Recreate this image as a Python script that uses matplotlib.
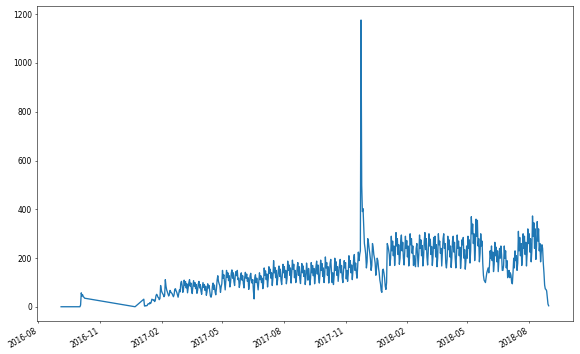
import pandas as pd
import matplotlib
matplotlib.use("Agg")
import matplotlib.pyplot as plt
import matplotlib.dates as mdates

# first scattered orders in 2016
early_dates = ["2016-09-04", "2016-09-05", "2016-09-13", "2016-09-15",
               "2016-10-02", "2016-10-03", "2016-10-04", "2016-10-05",
               "2016-10-06", "2016-10-07", "2016-10-08", "2016-10-09",
               "2016-12-23"]
early_counts = [1, 1, 1, 1, 1, 8, 58, 45, 50, 42, 40, 36, 1]

# daily orders 2017-01-05 .. 2017-12-31 (rows are Mon..Sun weeks)
start_2017 = "2017-01-05"
counts_2017 = [
    32, 4, 4, 6,
    5, 6, 12, 13, 12, 18, 14,
    20, 32, 30, 28, 30, 22, 26,
    45, 52, 48, 40, 38, 30, 35,
    88, 70, 60, 55, 50, 42, 48,
    112, 85, 70, 62, 55, 45, 52,
    68, 62, 58, 55, 48, 42, 50,
    72, 75, 66, 60, 50, 40, 55,
    70, 62, 98, 105, 88, 60, 72,
    110, 88, 104, 78, 95, 58, 80,
    100, 112, 85, 98, 70, 55, 85,
    108, 85, 100, 75, 92, 56, 68,
    95, 105, 78, 92, 65, 52, 80,
    100, 80, 92, 68, 85, 48, 62,
    95, 78, 88, 65, 45, 40, 52,
    85, 98, 72, 90, 62, 50, 75,
    110, 128, 105, 95, 88, 60, 82,
    95, 150, 118, 132, 100, 70, 110,
    150, 122, 140, 108, 128, 82, 100,
    138, 152, 118, 140, 104, 88, 130,
    145, 128, 150, 112, 118, 80, 96,
    132, 140, 110, 128, 96, 78, 120,
    142, 118, 135, 105, 120, 72, 95,
    128, 138, 108, 98, 112, 65, 33,
    120, 132, 100, 118, 92, 70, 108,
    140, 112, 128, 100, 118, 75, 95,
    160, 130, 148, 112, 135, 82, 115,
    165, 138, 155, 118, 140, 88, 120,
    190, 140, 162, 120, 150, 90, 112,
    150, 168, 125, 155, 110, 92, 135,
    175, 140, 165, 120, 150, 95, 118,
    188, 150, 172, 130, 160, 98, 140,
    192, 155, 175, 120, 150, 100, 122,
    160, 182, 130, 165, 115, 96, 145,
    178, 140, 168, 125, 150, 92, 118,
    180, 150, 110, 158, 130, 90, 118,
    182, 140, 170, 128, 158, 95, 125,
    165, 188, 135, 172, 118, 98, 140,
    192, 150, 178, 125, 160, 100, 130,
    205, 160, 182, 130, 165, 98, 135,
    180, 195, 150, 100, 140, 92, 128,
    200, 150, 185, 130, 165, 105, 140,
    175, 195, 140, 170, 120, 100, 150,
    190, 160, 182, 115, 150, 105, 135,
    210, 162, 190, 140, 172, 112, 150,
    195, 215, 150, 180, 140, 118, 165,
    225, 190, 215, 230, 1176, 499, 391,
    403, 330, 260, 240, 215, 160, 185,
    280, 265, 240, 220, 195, 150, 170,
    260, 245, 215, 200, 180, 130, 155,
    200, 190, 160, 140, 110, 94, 66,
    60, 150, 155, 140, 120, 85, 72,
]

# daily orders 2018-01-01 .. 2018-08-30
start_2018 = "2018-01-01"
counts_2018 = [
    100, 260, 250, 235, 215, 170, 200,
    290, 230, 270, 210, 250, 170, 215,
    305, 250, 280, 215, 255, 175, 200,
    270, 295, 230, 265, 200, 172, 225,
    290, 240, 272, 205, 250, 168, 200,
    300, 255, 280, 220, 250, 170, 210,
    180, 165, 240, 260, 215, 165, 220,
    295, 240, 275, 210, 252, 168, 202,
    270, 305, 235, 280, 205, 172, 230,
    300, 250, 278, 215, 248, 170, 205,
    285, 240, 290, 205, 255, 165, 200,
    300, 255, 270, 220, 240, 168, 225,
    280, 300, 240, 260, 180, 160, 195,
    290, 235, 275, 205, 250, 162, 200,
    270, 290, 225, 265, 200, 160, 215,
    295, 240, 270, 210, 245, 158, 196,
    275, 255, 285, 200, 235, 155, 190,
    250, 200, 290, 240, 275, 180, 230,
    370, 300, 340, 260, 300, 190, 240,
    360, 290, 355, 250, 280, 185, 220,
    300, 250, 270, 180, 130, 110, 105,
    100, 120, 140, 150, 160, 140, 170,
    230, 200, 250, 190, 225, 145, 175,
    265, 210, 245, 185, 230, 145, 195,
    240, 200, 250, 215, 150, 150, 170,
    250, 200, 230, 160, 190, 120, 130,
    150, 120, 140, 130, 100, 95, 140,
    200, 160, 230, 190, 210, 150, 180,
    310, 230, 285, 210, 260, 170, 205,
    300, 240, 290, 215, 265, 168, 220,
    320, 260, 300, 225, 280, 185, 230,
    373, 290, 345, 240, 320, 195, 250,
    350, 270, 320, 230, 260, 185, 225,
    255, 240, 180, 140, 90, 74, 72,
    66, 39, 12, 5,
]

s_early = pd.Series(early_counts, index=pd.to_datetime(early_dates))
s_2017 = pd.Series(counts_2017, index=pd.date_range(start_2017, periods=len(counts_2017)))
s_2018 = pd.Series(counts_2018, index=pd.date_range(start_2018, periods=len(counts_2018)))
orders = pd.concat([s_early, s_2017, s_2018])

plt.rcParams["font.size"] = 10.8
fig, ax = plt.subplots(figsize=(11.6, 7.08), dpi=50)
ax.plot(orders.index.to_numpy(), orders.values, color="#1f77b4", linewidth=1.9)
ax.xaxis.set_major_locator(mdates.MonthLocator(bymonth=[2, 5, 8, 11]))
ax.xaxis.set_major_formatter(mdates.DateFormatter("%Y-%m"))
fig.autofmt_xdate()
fig.subplots_adjust(left=0.0633, right=0.988, bottom=0.093, top=0.984)
fig.savefig("out.png", dpi=50)
